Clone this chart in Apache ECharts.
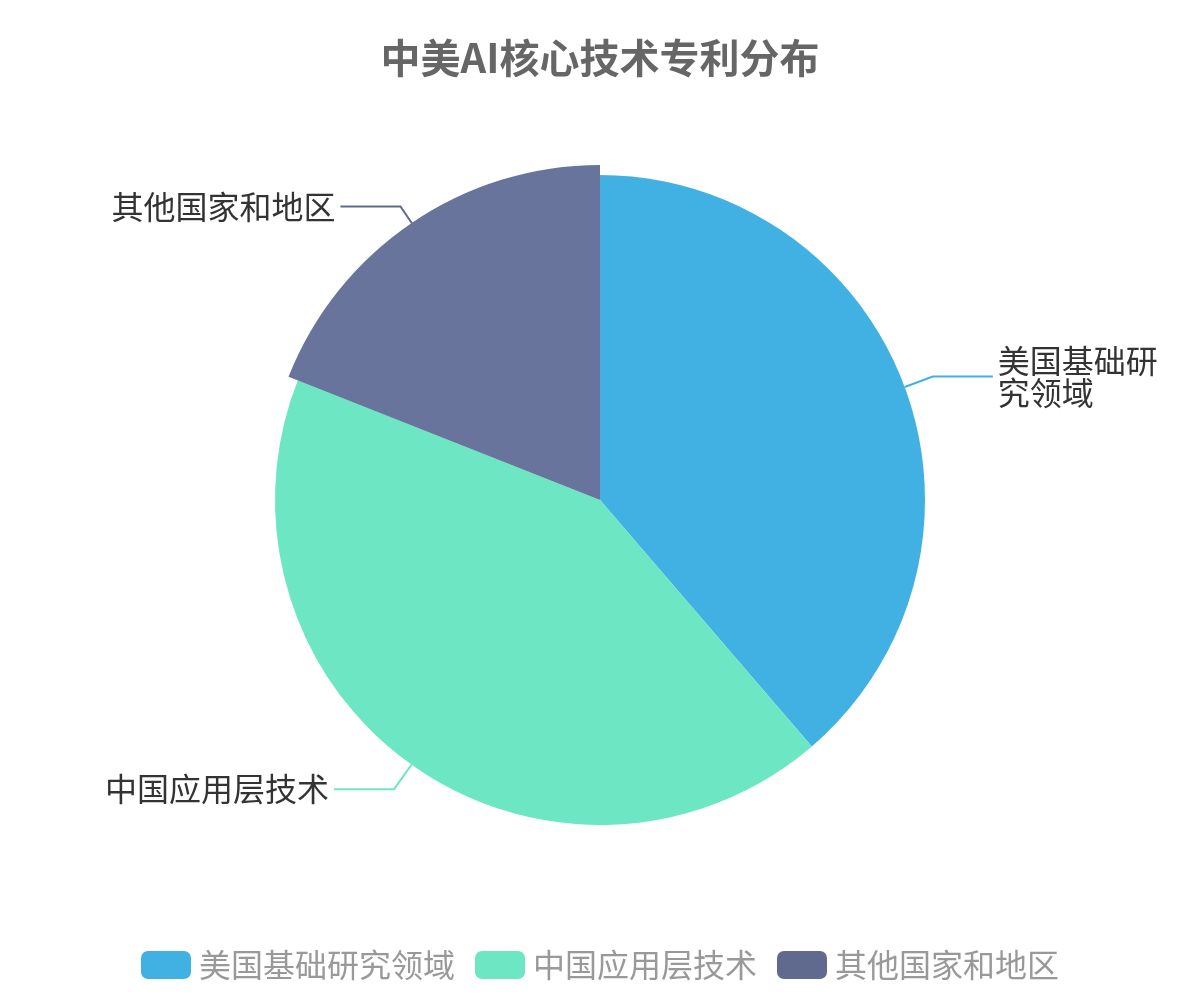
<!DOCTYPE html>
<html>
<head>
<meta charset="utf-8">
<script src="https://cdn.jsdelivr.net/npm/echarts@6/dist/echarts.min.js"></script>
<style>html,body{margin:0;padding:0;background:#fff;}#c{width:1200px;height:1000px;}</style>
</head>
<body>
<div id="c"></div>
<script>
const titleText = '中美AI核心技术专利分布';
const categories = ['美国基础研究领域', '中国应用层技术', '其他国家和地区'];
const values = [38.7, 42.3, 19.0];
const colors = ['#41b0e3', '#6de6c4', '#5f6a8e'];
const highlightedIndex = 2;

const chart = echarts.init(document.getElementById('c'), null, {renderer: 'canvas'});
const font = '"Noto Sans CJK SC", "Noto Sans", sans-serif';
chart.setOption({
  animation: false,
  color: colors,
  textStyle: {fontFamily: font},
  title: {
    text: titleText,
    left: 'center',
    top: 33,
    textStyle: {fontSize: 40, fontWeight: 'bold', color: '#666', fontFamily: font}
  },
  legend: {
    bottom: 14,
    left: 'center',
    icon: 'roundRect',
    itemWidth: 50,
    itemHeight: 28,
    itemGap: 20,
    textStyle: {fontSize: 32, color: '#999', fontFamily: font, padding: [0, 0, 0, 3]},
    data: categories
  },
  series: [{
    type: 'pie',
    radius: '65%',
    center: ['50%', '50%'],
    startAngle: 90,
    clockwise: true,
    label: {
      show: true,
      fontSize: 32,
      color: '#333',
      fontFamily: font,
      overflow: 'break',
      lineHeight: 32
    },
    labelLine: {length: 30, length2: 60, lineStyle: {width: 2}},
    emphasis: {scale: true, scaleSize: 10},
    data: categories.map((n, i) => {
      const d = {name: n, value: values[i]};
      if (i === 0) d.label = {width: 165, overflow: 'break'};
      return d;
    })
  }]
});
chart.dispatchAction({type: 'highlight', seriesIndex: 0, dataIndex: highlightedIndex});
</script>
</body>
</html>
